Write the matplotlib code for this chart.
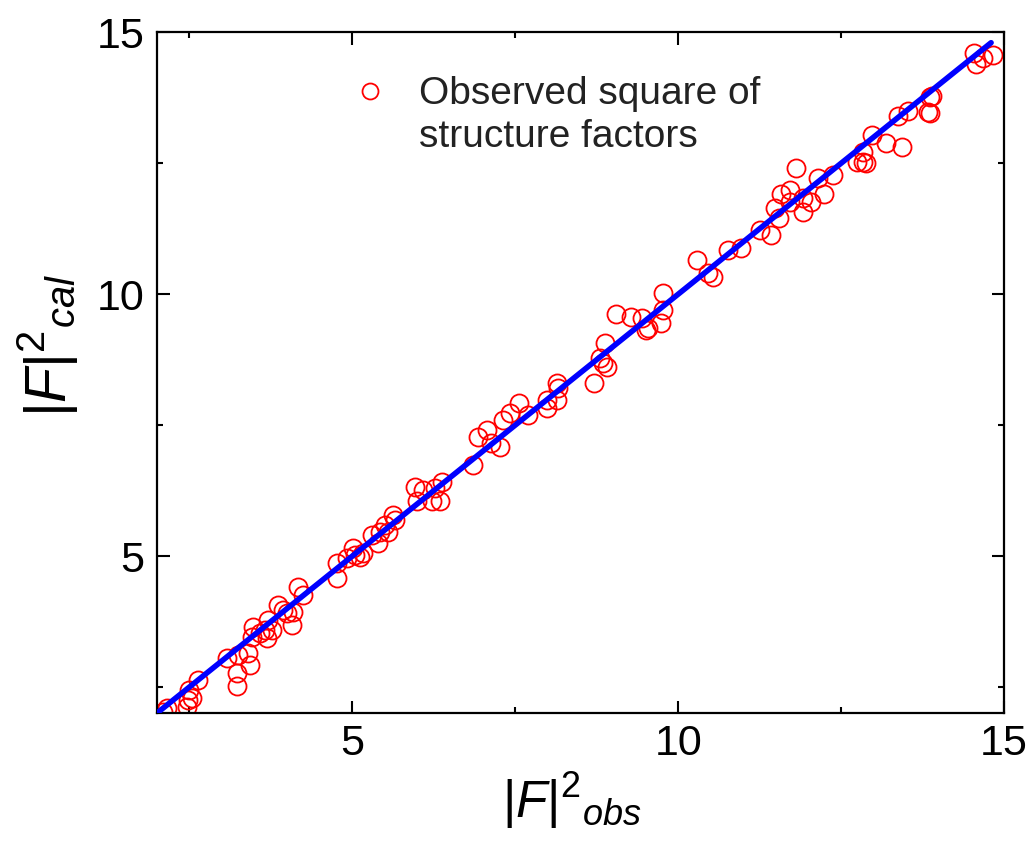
import matplotlib
matplotlib.use('Agg')
from matplotlib import pyplot as plt
from matplotlib.lines import Line2D

plt.rcParams['font.family'] = ['Liberation Sans', 'DejaVu Sans']
plt.rcParams['mathtext.fontset'] = 'custom'
plt.rcParams['mathtext.rm'] = 'Liberation Sans'
plt.rcParams['mathtext.it'] = 'Liberation Sans:italic'

# squared structure factors, observed vs calculated
f_obs = [2.09, 2.15, 2.46, 2.48, 2.54, 2.49, 2.63, 3.08, 3.23, 3.23, 3.24, 3.40, 3.43, 3.46, 3.47,
         3.58, 3.66, 3.69, 3.71, 3.77, 3.86, 3.94, 4.00, 4.07, 4.09, 4.17, 4.24, 4.76, 4.76, 4.92,
         5.01, 5.04, 5.12, 5.16, 5.30, 5.39, 5.43, 5.50, 5.55, 5.63, 5.66, 5.96, 5.99, 6.09, 6.22,
         6.27, 6.35, 6.38, 6.85, 6.93, 7.07, 7.12, 7.27, 7.31, 7.42, 7.55, 7.70, 7.99, 7.99, 8.14,
         8.16, 8.14, 8.70, 8.80, 8.88, 8.85, 8.91, 9.04, 9.27, 9.45, 9.50, 9.53, 9.73, 9.77, 9.77,
         10.29, 10.45, 10.54, 10.77, 10.96, 11.26, 11.42, 11.49, 11.54, 11.57, 11.72, 11.72, 11.80,
         11.91, 11.92, 12.03, 12.14, 12.23, 12.38, 12.75, 12.83, 12.88, 12.84, 12.98, 13.18, 13.44,
         13.37, 13.52, 13.83, 13.87, 13.87, 13.90, 14.53, 14.57, 14.67, 14.83]
f_cal = [2.02, 2.10, 2.11, 2.25, 2.29, 2.44, 2.63, 3.05, 2.76, 2.52, 3.11, 3.15, 2.92, 3.45, 3.64,
         3.53, 3.58, 3.43, 3.77, 3.58, 4.06, 3.97, 3.91, 3.68, 3.93, 4.40, 4.25, 4.86, 4.58, 4.96,
         5.15, 5.02, 4.98, 5.05, 5.40, 5.24, 5.45, 5.59, 5.45, 5.78, 5.68, 6.31, 6.06, 6.26, 6.06,
         6.29, 6.06, 6.41, 6.73, 7.27, 7.40, 7.15, 7.08, 7.59, 7.74, 7.92, 7.69, 7.97, 7.82, 8.30,
         8.20, 7.97, 8.30, 8.79, 9.06, 8.68, 8.60, 9.63, 9.56, 9.54, 9.31, 9.35, 9.44, 9.69, 10.03,
         10.65, 10.40, 10.32, 10.84, 10.89, 11.22, 11.12, 11.64, 11.45, 11.92, 11.98, 11.75, 12.40,
         11.56, 11.83, 11.75, 12.21, 11.92, 12.27, 12.52, 12.52, 12.50, 12.71, 13.03, 12.88, 12.80,
         13.41, 13.50, 13.47, 13.45, 13.76, 13.79, 14.61, 14.40, 14.50, 14.56]

# y = x reference line
fit_x = [2.0, 14.8]
fit_y = [2.0, 14.8]

fig = plt.figure(figsize=(10.32, 8.48), dpi=100)
ax = fig.add_axes([0.152, 0.159, 0.821, 0.803])

ax.plot(f_obs, f_cal, linestyle='none', marker='o', markersize=13, markerfacecolor='none',
        markeredgecolor='#ff0000', markeredgewidth=1.3, zorder=2)
ax.plot(fit_x, fit_y, color='#0000ff', linewidth=4, solid_capstyle='round', zorder=3)

ax.set_xlim(2, 15)
ax.set_ylim(2, 15)
ax.set_xticks([5, 10, 15])
ax.set_yticks([5, 10, 15])
ax.set_xticks([2.5, 7.5, 12.5], minor=True)
ax.set_yticks([2.5, 7.5, 12.5], minor=True)
ax.tick_params(which='both', direction='in', top=True, right=True, width=1.5, colors='black')
ax.tick_params(which='major', length=9, labelsize=31)
ax.tick_params(which='minor', length=4.5)
ax.tick_params(axis='x', which='major', pad=8)
ax.tick_params(axis='y', which='major', pad=9)
for sp in ax.spines.values():
    sp.set_linewidth(1.6)

ax.set_xlabel(r'$|F|^{2}{}_{obs}$', fontsize=37)
ax.set_ylabel(r'$|F|^{2}{}_{cal}$', fontsize=41)
ax.xaxis.set_label_coords(0.49, -0.084)
ax.yaxis.set_label_coords(-0.09, 0.54)

# legend: marker sits on the first line of the label
handles = [Line2D([], [], linestyle='none', marker='o', markersize=11.5, markerfacecolor='none',
                  markeredgecolor='#ff0000', markeredgewidth=1.3),
           Line2D([], [], linestyle='none')]
labels = ['Observed square of', 'structure factors']
leg = ax.legend(handles, labels, loc='upper left', bbox_to_anchor=(0.206, 0.935), frameon=False,
                fontsize=28, borderpad=0, borderaxespad=0, handlelength=2.0, handletextpad=0.25,
                labelspacing=0.18)
for t in leg.get_texts():
    t.set_color('#222222')

fig.savefig('out.png', dpi=100)
